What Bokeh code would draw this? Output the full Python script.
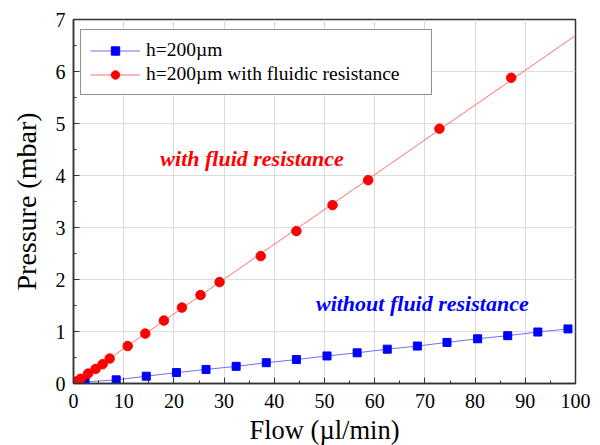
import numpy as np
from bokeh.plotting import figure
from bokeh.models import Range1d, Legend, LegendItem, Label, SingleIntervalTicker
from bokeh.embed import file_html
from bokeh.resources import INLINE

# Data
flow_plain = [2.3, 8.5, 14.5, 20.5, 26.4, 32.4, 38.4, 44.4, 50.5, 56.5, 62.5,
              68.5, 74.4, 80.5, 86.5, 92.5, 98.5]
pressure_plain = [0.03, 0.07, 0.14, 0.21, 0.27, 0.33, 0.40, 0.46, 0.53, 0.59, 0.66,
                  0.72, 0.79, 0.86, 0.92, 0.99, 1.05]

flow_res = [0.6, 1.4, 2.9, 4.4, 5.8, 7.2, 10.8, 14.3, 18.0, 21.6, 25.3, 29.1,
            37.3, 44.4, 51.6, 58.7, 72.9, 87.2]
pressure_res = [0.04, 0.09, 0.19, 0.28, 0.37, 0.48, 0.72, 0.96, 1.21, 1.46, 1.70, 1.95,
                2.45, 2.93, 3.43, 3.91, 4.90, 5.88]

label_plain = "h=200\u00b5m"
label_res = "h=200\u00b5m with fluidic resistance"
note_res = "with fluid resistance"
note_plain = "without fluid resistance"
x_title = "Flow (\u00b5l/min)"
y_title = "Pressure (mbar)"

FONT = "Liberation Serif"

p = figure(frame_width=502, frame_height=364,
           min_border_left=73, min_border_right=25, min_border_top=19, min_border_bottom=62,
           x_range=Range1d(0, 100), y_range=Range1d(0, 7),
           output_backend="svg", toolbar_location=None,
           background_fill_color="white", border_fill_color="white")

p.outline_line_color = "#333333"
p.outline_line_width = 1.5

p.xaxis.ticker = SingleIntervalTicker(interval=10, num_minor_ticks=2)
p.yaxis.ticker = SingleIntervalTicker(interval=1, num_minor_ticks=2)

for ax in (p.xaxis[0], p.yaxis[0]):
    ax.axis_line_color = "#333333"
    ax.axis_line_width = 1.5
    ax.major_tick_in = 6
    ax.major_tick_out = 0
    ax.minor_tick_in = 3
    ax.minor_tick_out = 0
    ax.major_tick_line_color = "#333333"
    ax.minor_tick_line_color = "#333333"
    ax.major_label_text_font = FONT
    ax.major_label_text_font_size = "20px"
    ax.major_label_text_font_style = "normal"
    ax.major_label_text_color = "black"
    ax.axis_label_text_font = FONT
    ax.axis_label_text_font_style = "normal"
    ax.axis_label_text_color = "black"

p.xaxis.axis_label = x_title
p.yaxis.axis_label = y_title
p.xaxis.axis_label_text_font_size = "26.5px"
p.yaxis.axis_label_text_font_size = "28px"
p.xaxis.major_label_standoff = 10
p.yaxis.major_label_standoff = 8
p.xaxis.axis_label_standoff = 4
p.yaxis.axis_label_standoff = 11

p.xgrid.grid_line_color = "#dcdcdc"
p.ygrid.grid_line_color = "#dcdcdc"
p.xgrid.grid_line_width = 1
p.ygrid.grid_line_width = 1

# Linear fit (through the origin) for the fluidic-resistance series, across the full axis
fr = np.array(flow_res)
pr = np.array(pressure_res)
slope = float(np.sum(fr * pr) / np.sum(fr * fr))
fit_x = np.array([0.0, 100.0])
fit_y = slope * fit_x

l_plain = p.line(flow_plain, pressure_plain, line_color="#6f6fff", line_width=1)
s_plain = p.scatter(flow_plain, pressure_plain, marker="square", size=8,
                    fill_color="#0000ff", line_color="#0000ff")
l_res = p.line(fit_x, fit_y, line_color="#ff6f6f", line_width=1)
s_res = p.scatter(flow_res, pressure_res, marker="circle", size=9.5,
                  fill_color="#ff0000", line_color="#ff0000")

legend = Legend(items=[LegendItem(label=label_plain, renderers=[l_plain, s_plain]),
                       LegendItem(label=label_res, renderers=[l_res, s_res])],
                location=(7, 288),
                label_text_font=FONT, label_text_font_size="19.5px",
                label_text_font_style="normal")
legend.label_text_color = "black"
legend.glyph_width = 50
legend.glyph_height = 21
legend.label_height = 21
legend.label_width = 276
legend.label_standoff = 6
legend.spacing = 2
legend.padding = 9
legend.margin = 0
legend.border_line_color = "#222222"
legend.border_line_width = 1.2
legend.background_fill_alpha = 1
p.add_layout(legend)

p.add_layout(Label(x=17.3, y=4.33, text=note_res, text_color="#ff0000",
                   text_font=FONT, text_font_size="22px", text_font_style="bold italic",
                   text_baseline="middle", text_align="left"))
p.add_layout(Label(x=48.3, y=1.54, text=note_plain, text_color="#0000ff",
                   text_font=FONT, text_font_size="22px", text_font_style="bold italic",
                   text_baseline="middle", text_align="left"))

open("out.html", "w").write(file_html(p, INLINE))
